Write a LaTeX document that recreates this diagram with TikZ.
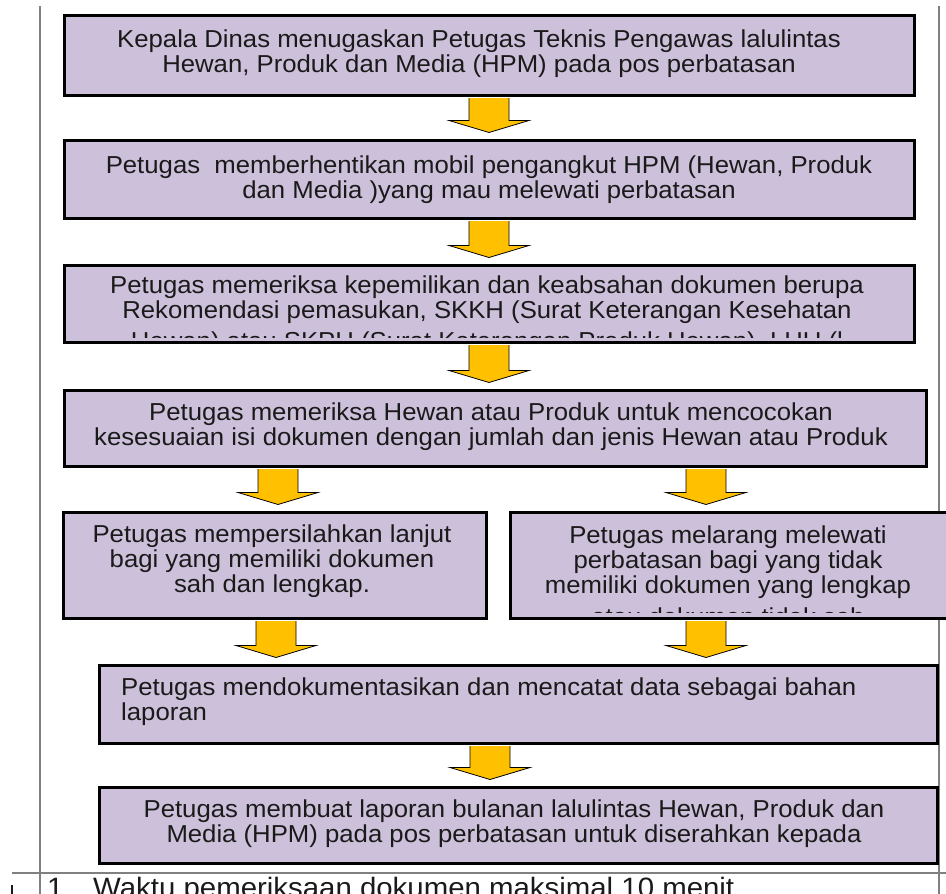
\documentclass[tikz,border=0pt]{standalone}
\usepackage{fontspec}
\setmainfont{Liberation Sans}
\newfontfamily\widefont[FakeStretch=1.05]{Liberation Sans}
\usetikzlibrary{calc}
\definecolor{boxfill}{HTML}{CDC0DA}
\definecolor{arrfill}{HTML}{FFC000}
\definecolor{rulegray}{HTML}{808080}
\definecolor{ink}{HTML}{1A1A1A}
\tikzset{
  flowbox/.style={draw=black, line width=3pt, fill=boxfill, inner sep=0pt, rectangle},
  boxtext/.style={font={\widefont\fontsize{24.5}{25}\selectfont}, text=ink, align=center, inner sep=0pt},
  bottomtext/.style={font={\widefont\fontsize{28}{28}\selectfont}, text=ink, inner sep=0pt},
  flowarr/.style={draw=black, line width=0.8pt, fill=arrfill, line join=miter},
  tablerule/.style={draw=rulegray, line width=1.5pt}
}
\newcommand\flowarrow[3]{%
  \draw[flowarr] let \p1=(#2.south), \p2=(#3.north) in
   ({(#1-20)*1pt},{\y1-1.5pt}) -- ({(#1-20)*1pt},{\y2+18pt}) -- ({(#1-40)*1pt},{\y2+18pt})
   -- ({#1*1pt},{\y2+6pt}) -- ({(#1+40)*1pt},{\y2+18pt}) -- ({(#1+20)*1pt},{\y2+18pt})
   -- ({(#1+20)*1pt},{\y1-1.5pt});
}
\begin{document}
\begin{tikzpicture}[x=1pt,y=-1pt]
\useasboundingbox (0,0) rectangle (946,894);
\clip (0,0) rectangle (946,894);
\fill[white] (0,0) rectangle (946,894);

% table rules
\coordinate (rl1) at (40,6);   \coordinate (rl2) at (40,894);
\coordinate (rr1) at (939,6);  \coordinate (rr2) at (939,894);
\coordinate (rh1) at (12,873); \coordinate (rh2) at (946,873);
\draw[tablerule] (rl1) -- (rl2);
\draw[tablerule] (rr1) -- (rr2);
\draw[tablerule] (rh1) -- (rh2);
\coordinate (mk1) at (12,885); \coordinate (mk2) at (12,894);
\draw[ink, line width=2pt] (mk1) -- (mk2);

% boxes
\node[flowbox, minimum width=850pt, minimum height=80pt] (b1) at (489,55) {};
\node[flowbox, minimum width=850pt, minimum height=78pt] (b2) at (489,179) {};
\node[flowbox, minimum width=850pt, minimum height=77pt] (b3) at (489,303.5) {};
\node[flowbox, minimum width=862pt, minimum height=76pt] (b4) at (495,428) {};
\node[flowbox, minimum width=423pt, minimum height=106pt] (b5l) at (274.5,565) {};
\node[flowbox, minimum width=450pt, minimum height=106pt] (b5r) at (735,565) {};
\node[flowbox, minimum width=838pt, minimum height=78pt] (b6) at (518,704) {};
\node[flowbox, minimum width=838pt, minimum height=76pt] (b7) at (518,825) {};

% texts
\node[boxtext] (t1) at (479,54) {Kepala Dinas menugaskan Petugas Teknis Pengawas lalulintas\\Hewan, Produk dan Media (HPM) pada pos perbatasan};
\node[boxtext] (t2) at (489,179.5) {Petugas\ \ memberhentikan mobil pengangkut HPM (Hewan, Produk\\dan Media )yang mau melewati perbatasan};
\begin{scope}
  \clip (65.5,266.5) rectangle (912.5,337);
  \node[boxtext] (t3) at (487,300) {Petugas memeriksa kepemilikan dan keabsahan dokumen berupa\\Rekomendasi pemasukan, SKKH (Surat Keterangan Kesehatan};
  \node[boxtext, anchor=base] (t3c) at (487,349) {Hewan) atau SKPH (Surat Keterangan Produk Hewan), LHU (l};
\end{scope}
\node[boxtext] (t4) at (491,427) {Petugas memeriksa Hewan atau Produk untuk mencocokan\\kesesuaian isi dokumen dengan jumlah dan jenis Hewan atau Produk};
\node[boxtext] (t5l) at (272,561) {Petugas mempersilahkan lanjut\\bagi yang memiliki dokumen\\sah dan lengkap.};
\begin{scope}
  \clip (511.5,513.5) rectangle (946,612);
  \node[boxtext] (t5r) at (728,562) {Petugas melarang melewati\\perbatasan bagi yang tidak\\memiliki dokumen yang lengkap};
  \node[boxtext, anchor=base] (t5rc) at (728,625) {atau dokumen tidak sah};
\end{scope}
\node[boxtext, align=left, anchor=west] (t6) at (121,702) {Petugas mendokumentasikan dan mencatat data sebagai bahan\\laporan};
\node[boxtext] (t7) at (514,824) {Petugas membuat laporan bulanan lalulintas Hewan, Produk dan\\Media (HPM) pada pos perbatasan untuk diserahkan kepada};

% bottom row
\node[bottomtext, anchor=base west] (n1) at (47,897) {1};
\node[bottomtext, anchor=base west] (n2) at (93,897) {Waktu pemeriksaan dokumen maksimal 10 menit};

% arrows
\flowarrow{489}{b1}{b2}
\flowarrow{489}{b2}{b3}
\flowarrow{489}{b3}{b4}
\flowarrow{278}{b4}{b5l}
\flowarrow{706}{b4}{b5r}
\flowarrow{276}{b5l}{b6}
\flowarrow{706}{b5r}{b6}
\flowarrow{490}{b6}{b7}
\end{tikzpicture}
\end{document}
